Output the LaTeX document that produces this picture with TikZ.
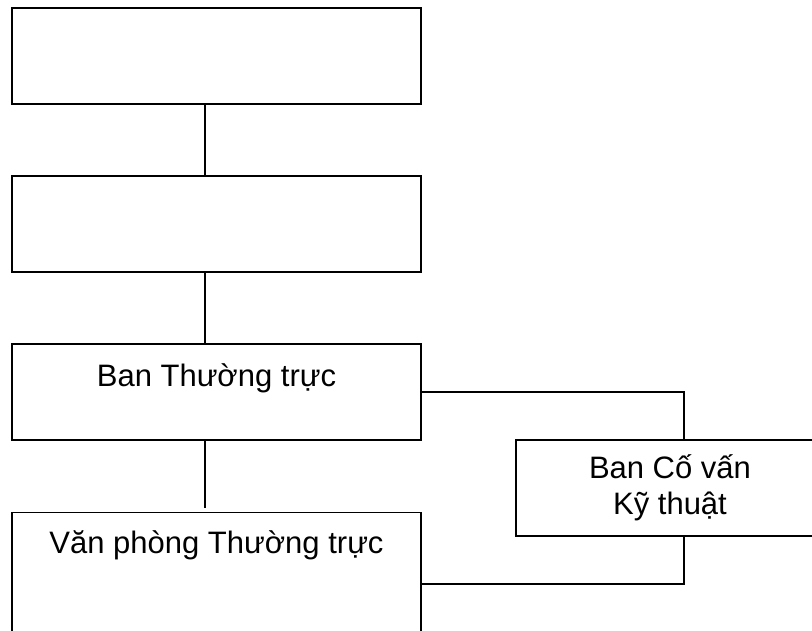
\documentclass[tikz,border=0pt]{standalone}
\usepackage{fontspec}
\setmainfont{Liberation Sans}

\tikzset{
    orgbox/.style={draw=black, line width=1.8pt, inner sep=0pt, minimum width=409pt, align=center,
        font=\fontsize{31pt}{36pt}\selectfont},
    link/.style={draw=black, line width=1.4pt}
}

\begin{document}
\begin{tikzpicture}[x=1pt,y=-1pt]
    \clip (0,0) rectangle (812,630);

    % hai o trong phia tren
    \node[orgbox, minimum height=96pt] (topBox) at (216.5,56.3) {};
    \node[orgbox, minimum height=96pt] (midBox) at (216.5,224.2) {};

    \node[orgbox, anchor=base, text height=42pt, text depth=54pt] (banTT) at (216.5,386) {Ban Thường trực};
    \node[orgbox, anchor=base, text height=40.5pt, text depth=102.6pt] (vanPhong) at (216.5,553) {Văn phòng Thường trực};
    \node[orgbox, minimum width=308pt, minimum height=95.5pt] (coVan) at (670,488) {Ban Cố vấn\\Kỹ thuật};

    % duong noi lech khoi tam
    \coordinate (trunk) at (205,0);
    \coordinate (branch) at (684,0);

    \draw[link] (topBox.south -| trunk) -- (midBox.north -| trunk);
    \draw[link] (midBox.south -| trunk) -- (banTT.north -| trunk);
    \draw[link, shorten >=4pt] (banTT.south -| trunk) -- (vanPhong.north -| trunk);
    \draw[link] (banTT.east) -| (coVan.north -| branch);
    \draw[link] (coVan.south -| branch) |- (vanPhong.east);
\end{tikzpicture}
\end{document}
